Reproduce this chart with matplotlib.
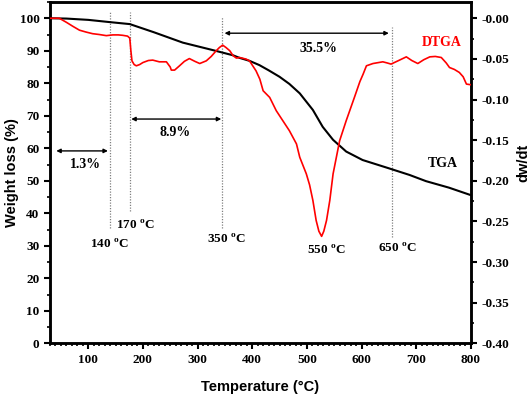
import numpy as np
import matplotlib
matplotlib.use("Agg")
import matplotlib.pyplot as plt
from matplotlib.ticker import MultipleLocator

# TGA (weight loss %) vs temperature
tga_t = [30, 60, 100, 140, 176, 220, 273, 328, 365, 377, 395, 413, 430,
         450, 468, 487, 511, 529, 548, 572, 602, 651, 688, 718, 760, 800]
tga_w = [100, 99.9, 99.5, 98.8, 98.2, 95.7, 92.5, 90.2, 88.6, 87.8, 86.9,
         85.6, 84.0, 82.0, 79.8, 76.9, 71.8, 66.6, 62.6, 59.0, 56.4, 53.8,
         51.8, 49.9, 47.9, 45.6]

# DTGA (dw/dt) vs temperature
dtg_t = [30, 47, 60, 72, 84, 96, 108, 120, 133, 145, 155, 163, 172, 176,
         178, 180, 184, 188, 194, 200, 210, 218, 230, 243, 250, 252, 258,
         267, 276, 285, 295, 304, 316, 325, 334, 340, 346, 352, 359, 365,
         371, 377, 389, 395, 407, 414, 420, 432, 444, 456, 468, 481, 487,
         499, 505, 511, 517, 522, 527, 531, 536, 542, 548, 560, 572, 587,
         597, 603, 609, 621, 639, 647, 654, 668, 682, 692, 703, 714, 725,
         735, 746, 755, 761, 770, 779, 786, 792, 800]
dtg_v = [0.0, 0.0, -0.005, -0.010, -0.0147, -0.017, -0.019, -0.020, -0.0214,
         -0.0205, -0.0205, -0.021, -0.022, -0.0245, -0.040, -0.0524, -0.057,
         -0.0585, -0.057, -0.0545, -0.052, -0.0515, -0.0536, -0.0536, -0.060,
         -0.0638, -0.0638, -0.0585, -0.053, -0.0496, -0.053, -0.0557, -0.0524,
         -0.047, -0.0401, -0.036, -0.0331, -0.036, -0.040, -0.046, -0.049,
         -0.0483, -0.0503, -0.0524, -0.0647, -0.075, -0.0892, -0.0974,
         -0.1137, -0.126, -0.1383, -0.1546, -0.171, -0.1914, -0.205, -0.224,
         -0.2487, -0.262, -0.2683, -0.262, -0.2487, -0.224, -0.1914, -0.1506,
         -0.126, -0.0974, -0.078, -0.0687, -0.0585, -0.0557, -0.0536, -0.055,
         -0.0564, -0.052, -0.0475, -0.052, -0.0557, -0.051, -0.0475, -0.047,
         -0.0483, -0.055, -0.0606, -0.063, -0.0667, -0.072, -0.081, -0.0818]

# step markers: (x, top, bottom) in weight units
vlines = [(140, 101.9, 35.4), (175.5, 101.9, 40.7), (345, 100.5, 35.4), (655.5, 97.4, 32.8)]
temp_labels = ["140 $^{\\rm o}$C", "170 $^{\\rm o}$C", "350 $^{\\rm o}$C", "550 $^{\\rm o}$C", "650 $^{\\rm o}$C"]
temp_pos = [(139, 30.5), (186.5, 36.4), (352.5, 32.0), (535.5, 28.5), (666.5, 29.1)]
steps = ["1.3%", "8.9%", "35.5%"]
step_arrows = [(41.5, 136, 59.2), (178.7, 343.4, 69.0), (349.4, 650, 95.4)]
step_text = [(95, 55.1), (259.7, 64.9), (522, 90.8)]

plt.rcParams['mathtext.fontset'] = 'custom'
plt.rcParams['mathtext.rm'] = 'Liberation Serif:bold'
serif = {'family': 'Liberation Serif', 'weight': 'bold'}
sans = {'family': 'Liberation Sans', 'weight': 'bold'}

fig = plt.figure(figsize=(5.29, 3.97), dpi=100)
ax = fig.add_axes([0.0945, 0.135, 0.7955, 0.86])
ax2 = ax.twinx()

ax.plot(tga_t, tga_w, color='black', lw=1.5, zorder=3)
ax2.plot(dtg_t, dtg_v, color='red', lw=1.2, zorder=3)

ax.set_xlim(30, 800)
ax.set_ylim(0, 105)
ax2.set_ylim(-0.4, 0.02)

for x, y1, y0 in vlines:
    ax.plot([x, x], [y0, y1], color='gray', ls=(0, (1, 1.2)), lw=0.9)

for s, (x, y) in zip(temp_labels, temp_pos):
    ax.text(x, y, s, ha='center', va='center', fontsize=9.5, **serif)

for (x0, x1, y) in step_arrows:
    ax.annotate('', xy=(x1, y), xytext=(x0, y),
                arrowprops=dict(arrowstyle='<|-|>', color='black', lw=1,
                                mutation_scale=6, shrinkA=0, shrinkB=0))
for s, (x, y) in zip(steps, step_text):
    ax.text(x, y, s, ha='center', va='center', fontsize=10, **serif)

ax.text(746, 92.5, "DTGA", color='red', ha='center', va='center', fontsize=10, **serif)
ax.text(749, 55.4, "TGA", color='black', ha='center', va='center', fontsize=10, **serif)

ax.xaxis.set_major_locator(MultipleLocator(100))
ax.xaxis.set_minor_locator(MultipleLocator(10))
ax.yaxis.set_major_locator(MultipleLocator(10))
ax.yaxis.set_minor_locator(MultipleLocator(5))
ax2.yaxis.set_minor_locator(MultipleLocator(0.025))
ax2.set_yticks(np.arange(-0.40, 0.001, 0.05))
ax2.set_yticklabels(["%.2f" % v for v in np.arange(-0.40, 0.001, 0.05)])

for a in (ax, ax2):
    a.tick_params(which='major', direction='out', length=4, width=1.5)
    a.tick_params(which='minor', direction='out', length=2.5, width=1.2)
    for sp in a.spines.values():
        sp.set_linewidth(1.8)
    for lab in a.get_xticklabels() + a.get_yticklabels():
        lab.set_fontfamily('Liberation Serif')
        lab.set_fontweight('bold')
        lab.set_fontsize(9.5)

xl = ax.set_xlabel("Temperature (°C)", fontsize=10.5, **sans)
xl.set_va('center')
ax.xaxis.set_label_coords(0.5, -0.127)
yl = ax.set_ylabel("Weight loss (%)", fontsize=10.5, **sans)
yl.set_va('center')
ax.yaxis.set_label_coords(-0.09, 0.5)
yl2 = ax2.set_ylabel("dw/dt", fontsize=10.5, **sans)
yl2.set_va('center')
ax2.yaxis.set_label_coords(1.124, 0.53)

fig.savefig("out.png", dpi=100)
